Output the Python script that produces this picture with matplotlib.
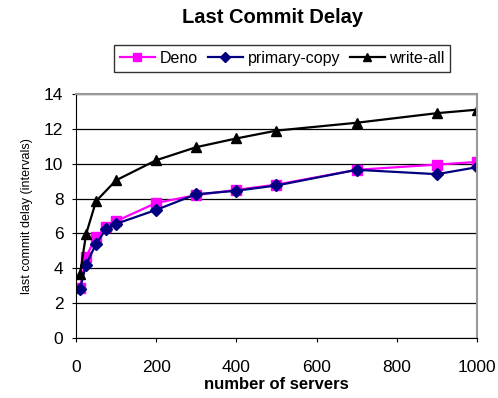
import matplotlib
matplotlib.use('Agg')
import matplotlib.pyplot as plt

plt.rcParams['font.family'] = ['Liberation Sans', 'DejaVu Sans']

servers = [10, 25, 50, 75, 100, 200, 300, 400, 500, 700, 900, 1000]
deno = [2.85, 4.65, 5.8, 6.35, 6.7, 7.75, 8.2, 8.5, 8.8, 9.65, 9.95, 10.1]
primary_copy = [2.8, 4.2, 5.4, 6.25, 6.55, 7.35, 8.25, 8.45, 8.75, 9.65, 9.4, 9.8]
write_all_x = [10, 25, 50, 100, 200, 300, 400, 500, 700, 900, 1000]
write_all = [3.65, 5.95, 7.85, 9.05, 10.2, 10.95, 11.45, 11.9, 12.35, 12.9, 13.1]

fig = plt.figure(figsize=(4.98, 3.98), dpi=100)
ax = fig.add_axes([0.1526, 0.1508, 0.8052, 0.613])

ax.plot(servers, deno, color='#FF00FF', lw=1.6, marker='s', ms=6.5, label='Deno')
ax.plot(servers, primary_copy, color='#000080', lw=1.6, marker='D', ms=6.5, label='primary-copy')
ax.plot(write_all_x, write_all, color='black', lw=1.6, marker='^', ms=7.5, label='write-all')

ax.set_xlim(0, 1000)
ax.set_ylim(0, 14)
ax.set_xticks(range(0, 1001, 200))
ax.set_yticks(range(0, 15, 2))
ax.yaxis.grid(True, color='black', lw=0.9)
ax.set_axisbelow(True)
ax.tick_params(labelsize=12.5, length=3, direction='out')
ax.tick_params(axis='x', pad=13)
ax.tick_params(axis='y', pad=6)

ax.spines['top'].set_color('#999999')
ax.spines['right'].set_color('#999999')
ax.spines['top'].set_linewidth(1.5)
ax.spines['right'].set_linewidth(1.5)

ax.set_xlabel('number of servers', fontsize=12, fontweight='bold', labelpad=1)
ax.set_ylabel('last commit delay (intervals)', fontsize=9, labelpad=8)

fig.text(0.548, 0.957, 'Last Commit Delay', ha='center', va='center',
         fontsize=14.5, fontweight='bold')

leg = fig.legend(loc='center', bbox_to_anchor=(0.567, 0.853), ncol=3,
                 fontsize=11.5, frameon=True, fancybox=False, handlelength=2.2,
                 columnspacing=0.6, handletextpad=0.3, borderpad=0.35,
                 borderaxespad=0, markerscale=0.8)
leg.get_frame().set_edgecolor('black')
leg.get_frame().set_linewidth(1.0)

plt.savefig('out.png', dpi=100)
